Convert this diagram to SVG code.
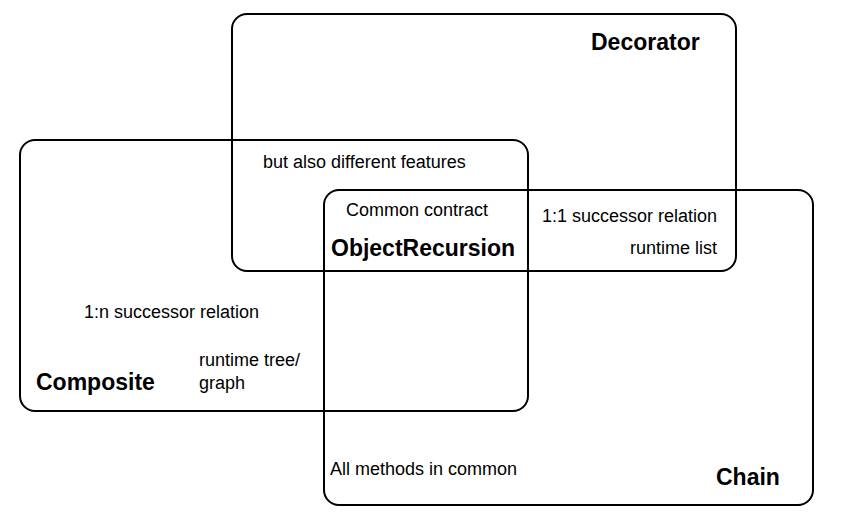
<svg xmlns="http://www.w3.org/2000/svg" width="857" height="515" viewBox="0 0 857 515">
<style>
.box{fill:none;stroke:#000;stroke-width:2}
.t{font-family:"Liberation Sans",Arial,sans-serif;font-size:18px;fill:#000}
.b{font-family:"Liberation Sans",Arial,sans-serif;font-size:23px;font-weight:bold;fill:#000}
</style>
<rect width="857" height="515" fill="#fff"/>
<g id="decorator">
<rect class="box" x="232" y="14" width="504" height="257" rx="15" ry="15"/>
<text class="b" x="591" y="50">Decorator</text>
<text class="t" x="263" y="168">but also different features</text>
</g>
<g id="composite">
<rect class="box" x="20" y="140" width="508" height="271" rx="15" ry="15"/>
<text class="t" x="84" y="318">1:n successor relation</text>
<text class="t" x="199" y="366">runtime tree/</text>
<text class="t" x="199" y="389">graph</text>
<text class="b" x="36" y="390">Composite</text>
</g>
<g id="chain">
<rect class="box" x="324" y="190" width="489" height="315" rx="15" ry="15"/>
<text class="t" x="717" y="222" text-anchor="end">1:1 successor relation</text>
<text class="t" x="717" y="254" text-anchor="end">runtime list</text>
<text class="t" x="330" y="475">All methods in common</text>
<text class="b" x="716" y="485">Chain</text>
</g>
<g id="objectrecursion">
<text class="t" x="346" y="216">Common contract</text>
<text class="b" x="331" y="256">ObjectRecursion</text>
</g>
<g id="connectors"></g>
</svg>
